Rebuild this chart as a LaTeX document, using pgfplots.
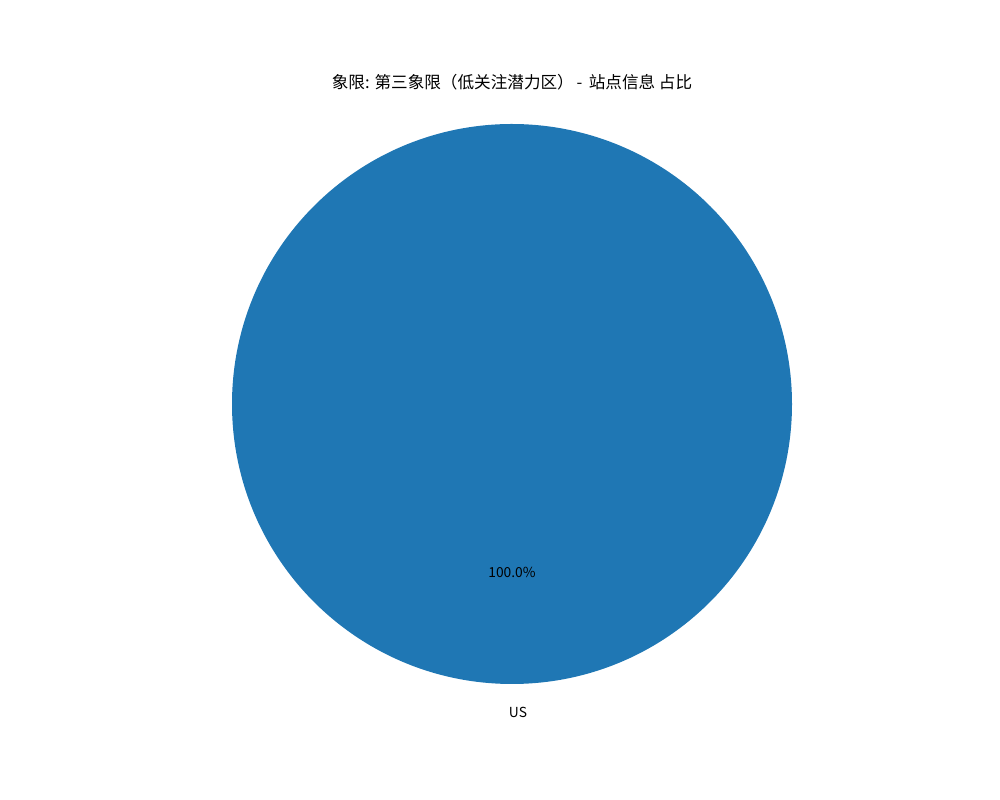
\documentclass[border=0pt]{standalone}
\usepackage{fontspec}
\setmainfont{Noto Sans CJK SC}
\usepackage{pgfplots}
\pgfplotsset{compat=1.18}
\usepackage{pgfplotstable}
\definecolor{mplblue}{HTML}{1F77B4}

% share of sites per country
\pgfplotstableread{
label value
US 100
}\sharetable

\begin{document}
\begin{tikzpicture}
\begin{axis}[
    width=10in, height=8in,
    scale only axis,
    xmin=0, xmax=1000,
    ymin=0, ymax=800,
    hide axis,
    clip=false,
]
\path (axis cs:0,0) rectangle (axis cs:1000,800);
\pgfplotstablegetelem{0}{value}\of\sharetable
\pgfmathsetmacro{\sweep}{3.6*\pgfplotsretval}
\fill[mplblue] (axis cs:512,396) -- ++(90:280) arc[start angle=90, delta angle=\sweep, radius=280] -- cycle;
\node[font=\fontsize{10}{12}\selectfont] at (axis cs:512,228) {100.0\%};
\node[font=\fontsize{10}{12}\selectfont] at (axis cs:518,88) {US};
\node[font=\fontsize{12}{14}\selectfont] at (axis cs:512,718) {象限: 第三象限（低关注潜力区）\,-\, 站点信息 占比};
\end{axis}
\end{tikzpicture}
\end{document}
